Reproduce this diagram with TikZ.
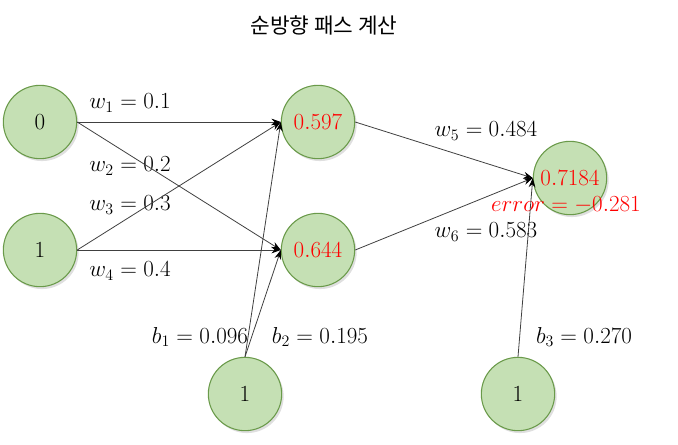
\documentclass[tikz,border=0pt]{standalone}
\usepackage{fontspec}
\newfontfamily\krfont{Noto Sans CJK KR}
\usetikzlibrary{arrows.meta,shadows}
\definecolor{nodefill}{HTML}{C5E0B4}
\definecolor{nodeline}{HTML}{6A9A4A}
\definecolor{edgegray}{HTML}{404040}
\begin{document}
\begin{tikzpicture}[
  x=0.75pt, y=-0.75pt,
  neuron/.style={circle, draw=nodeline, fill=nodefill, line width=0.8pt, minimum size=55pt, inner sep=0pt,
    drop shadow={shadow xshift=1.5pt, shadow yshift=-1.8pt, opacity=0.25}},
  hidval/.style={text=red},
  wlabel/.style={inner sep=0pt},
  edge/.style={->, draw=edgegray, line width=0.6pt},
  >={Stealth[length=7pt,width=5pt,black]},
  font=\fontsize{17}{20}\selectfont
]
\useasboundingbox (0,0) rectangle (678,444);
\node[font=\krfont\fontsize{16}{19}\selectfont] (title) at (324,25) {순방향 패스 계산};

\node[neuron] (x0) at (40,122) {$0$};
\node[neuron, below of=x0, node distance=96pt] (x1) {$1$};
\node[neuron, hidval, right of=x0, node distance=208.5pt] (h1) {$0.597$};
\node[neuron, hidval, right of=x1, node distance=208.5pt] (h2) {$0.644$};
\node[neuron, hidval, right of=h1, node distance=189pt, yshift=-42pt] (out) {$0.7184$};
\node[neuron] (bias1) at (245,394) {$1$};
\node[neuron] (bias2) at (518,394) {$1$};

\node[wlabel] (lw1) at (130,103) {$w_1 = 0.1$};
\node[wlabel] (lw2) at (130,166) {$w_2 = 0.2$};
\node[wlabel] (lw3) at (130,205) {$w_3 = 0.3$};
\node[wlabel] (lw4) at (130,271) {$w_4 = 0.4$};
\node[wlabel] (lw5) at (486,131) {$w_5 = 0.484$};
\node[wlabel] (lw6) at (486,232) {$w_6 = 0.583$};
\node[wlabel] (lb1) at (200,337) {$b_1 = 0.096$};
\node[wlabel] (lb2) at (320,337) {$b_2 = 0.195$};
\node[wlabel] (lb3) at (584,337) {$b_3 = 0.270$};
\node[wlabel, text=red] (lerr) at (566,205) {$error = -0.281$};

\draw[edge] (x0.east) -- (h1.west);
\draw[edge] (x0.east) -- (h2.west);
\draw[edge] (x1.east) -- (h1.west);
\draw[edge] (x1.east) -- (h2.west);
\draw[edge] (bias1.north) -- (h1.west);
\draw[edge] (bias1.north) -- (h2.west);
\draw[edge] (h1.east) -- (out.west);
\draw[edge] (h2.east) -- (out.west);
\draw[edge] (bias2.north) -- (out.west);
\end{tikzpicture}
\end{document}
